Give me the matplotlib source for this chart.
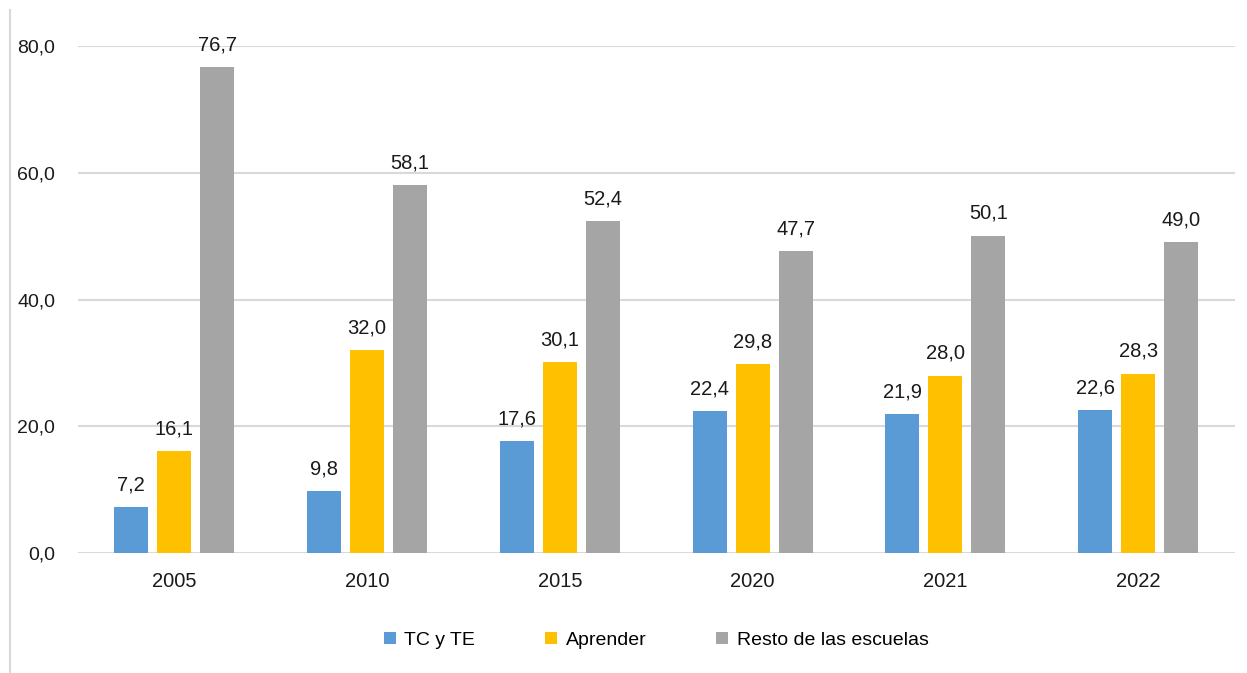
import matplotlib.pyplot as plt
import matplotlib.lines as mlines
import numpy as np

plt.rcParams["font.family"] = ["Liberation Sans", "DejaVu Sans"]

years = ["2005", "2010", "2015", "2020", "2021", "2022"]
tc_te = [7.2, 9.8, 17.6, 22.4, 21.9, 22.6]
aprender = [16.1, 32.0, 30.1, 29.8, 28.0, 28.3]
resto = [76.7, 58.1, 52.4, 47.7, 50.1, 49.0]

series = [
    ("TC y TE", tc_te, "#5b9bd5"),
    ("Aprender", aprender, "#ffc000"),
    ("Resto de las escuelas", resto, "#a5a5a5"),
]

TXT = "#1a1a1a"

fig = plt.figure(figsize=(12.47, 6.73), dpi=100)
ax = fig.add_axes([0.0625, 0.1783, 0.9275, 0.7533])

x = np.arange(len(years))
w = 0.176
step = 0.223
for i, (name, vals, col) in enumerate(series):
    pos = x + (i - 1) * step
    ax.bar(pos, vals, width=w, color=col, label=name, zorder=3)
    for p, v in zip(pos, vals):
        ax.text(p, v + 2.0, f"{v:.1f}".replace(".", ","), ha="center",
                va="bottom", fontsize=14.5, color=TXT)

ax.set_xlim(-0.5, len(years) - 0.5)
ax.set_ylim(0, 80)
ax.set_yticks([0, 20, 40, 60, 80])
ax.set_yticklabels([f"{v:.1f}".replace(".", ",") for v in [0, 20, 40, 60, 80]],
                   fontsize=14, color=TXT)
ax.set_xticks(x)
ax.set_xticklabels(years, fontsize=14.5, color=TXT)
ax.tick_params(axis="both", length=0)
ax.tick_params(axis="y", pad=16.5)
ax.tick_params(axis="x", pad=14)
ax.grid(axis="y", color="#d9d9d9", lw=1.5, zorder=0)
for s in ax.spines.values():
    s.set_visible(False)

ax.legend(loc="center", bbox_to_anchor=(0.5, -0.172), ncol=3, frameon=False,
          fontsize=14, handlelength=0.6, handleheight=0.6, columnspacing=3.6,
          handletextpad=0.45)

# thin border line on the left edge of the image
fig.add_artist(mlines.Line2D([10 / 1247, 10 / 1247], [0, 1 - 10 / 673],
                             color="#d9d9d9", lw=1.5))

fig.savefig("out.png", dpi=100)
